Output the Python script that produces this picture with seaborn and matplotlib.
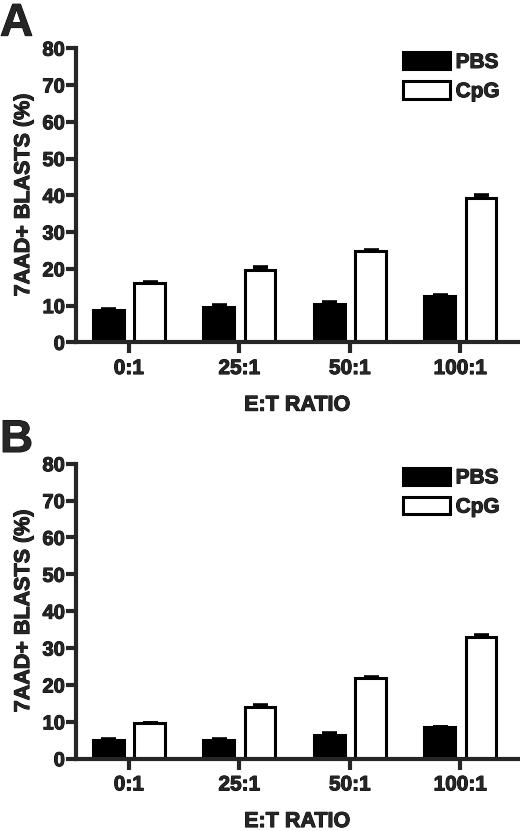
import numpy as np
import pandas as pd
import matplotlib
matplotlib.use("Agg")
import matplotlib.pyplot as plt
import matplotlib.patheffects as pe
import seaborn as sns

ratios = ['0:1', '25:1', '50:1', '100:1']
groups = ['PBS', 'CpG']

# panel A
a_pbs = [8.9, 9.6, 10.4, 12.7]
a_pbs_err = [0.2, 0.5, 0.5, 0.3]
a_cpg = [16.2, 19.6, 24.8, 39.3]
a_cpg_err = [0.2, 0.9, 0.4, 0.7]

# panel B
b_pbs = [5.2, 5.1, 6.5, 8.6]
b_pbs_err = [0.1, 0.2, 0.4, 0.1]
b_cpg = [9.7, 13.9, 21.8, 33.0]
b_cpg_err = [0.1, 0.6, 0.3, 0.6]

sns.set_style('ticks')
plt.rcParams['font.family'] = ['Liberation Sans', 'DejaVu Sans']
plt.rcParams['font.weight'] = 'bold'

# slightly heavier text, the original looks like Helvetica Black
heavy = [pe.withStroke(linewidth=0.7, foreground='black')]


def make_df(pbs, cpg):
    return pd.DataFrame({
        'ratio': ratios * 2,
        'group': ['PBS'] * 4 + ['CpG'] * 4,
        'value': pbs + cpg,
    })


def draw_panel(ax, pbs, pbs_err, cpg, cpg_err):
    df = make_df(pbs, cpg)
    sns.barplot(data=df, x='ratio', y='value', hue='group', order=ratios,
                hue_order=groups, palette={'PBS': 'black', 'CpG': 'white'},
                edgecolor='black', linewidth=2.2, width=0.745, gap=0.25,
                errorbar=None, ax=ax)
    for cont, err in zip(ax.containers, [pbs_err, cpg_err]):
        xs = [r.get_x() + r.get_width() / 2 for r in cont]
        ys = [r.get_height() for r in cont]
        ax.errorbar(xs, ys, yerr=[np.zeros(len(err)), err], fmt='none',
                    ecolor='black', elinewidth=2.2, capsize=5.4, capthick=2.6,
                    zorder=3)
    ax.set_xlim(-0.48, 3.52)
    ax.set_ylim(0, 80)
    ax.set_yticks(range(0, 81, 10))
    sns.despine(ax=ax)
    for s in ['left', 'bottom']:
        ax.spines[s].set_linewidth(3)
    ax.tick_params(axis='y', length=7, width=3, labelsize=14.5, pad=1)
    ax.tick_params(axis='x', length=8, width=3, labelsize=15, pad=4)
    ax.set_xlabel('E:T RATIO', fontsize=15.5, fontweight='bold', labelpad=12)
    ax.set_ylabel('7AAD+ BLASTS (%)', fontsize=15.5, fontweight='bold', labelpad=6)
    leg = ax.legend(loc='upper right', bbox_to_anchor=(0.978, 1.015), frameon=False,
                    fontsize=15, handlelength=2.26, handleheight=0.9,
                    handletextpad=0.25, labelspacing=0.45, borderaxespad=0)
    texts = (ax.get_xticklabels() + ax.get_yticklabels() + leg.get_texts()
             + [ax.xaxis.label, ax.yaxis.label])
    for t in texts:
        t.set_fontweight('bold')
        t.set_path_effects(heavy)


fig = plt.figure(figsize=(5.2, 8.31), dpi=100)
ax_a = fig.add_axes([0.146, 0.588, 0.85, 0.354])
ax_b = fig.add_axes([0.146, 0.087, 0.85, 0.355])

draw_panel(ax_a, a_pbs, a_pbs_err, a_cpg, a_cpg_err)
draw_panel(ax_b, b_pbs, b_pbs_err, b_cpg, b_cpg_err)

fig.text(0.0, 0.998, 'A', fontsize=33, fontweight='bold', va='top', ha='left',
         path_effects=heavy)
fig.text(0.0, 0.497, 'B', fontsize=33, fontweight='bold', va='top', ha='left',
         path_effects=heavy)

fig.savefig('out.png', dpi=100, facecolor='white')
